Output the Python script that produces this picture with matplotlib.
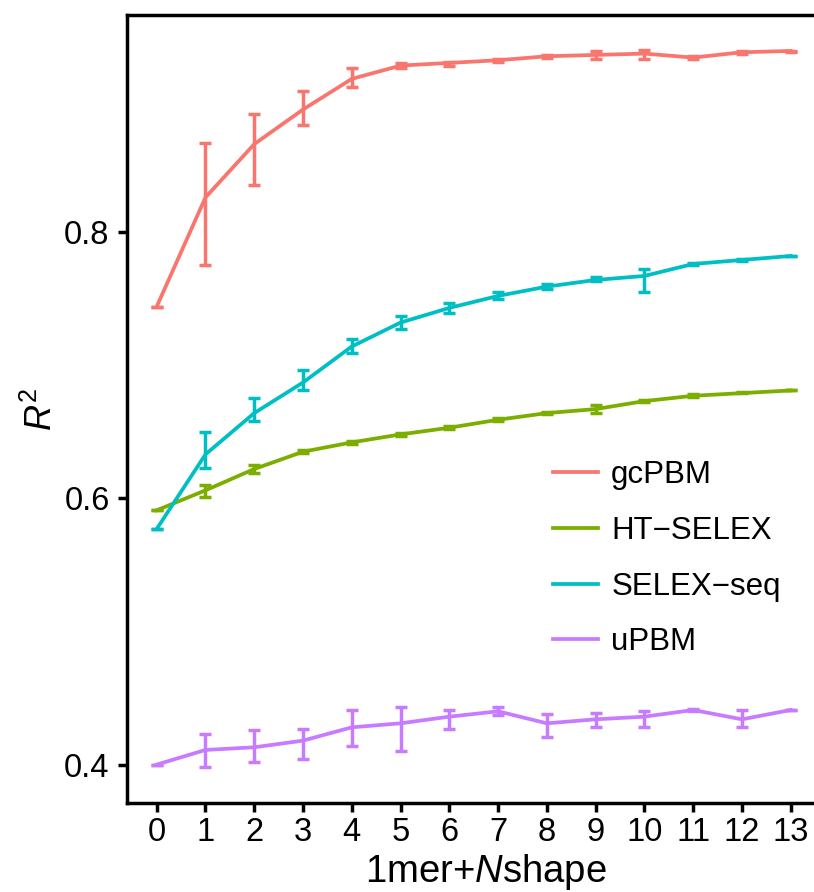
import matplotlib
matplotlib.use('Agg')
import matplotlib.pyplot as plt
import numpy as np

plt.rcParams['font.family'] = ['Liberation Sans', 'DejaVu Sans']
plt.rcParams['mathtext.fontset'] = 'custom'
plt.rcParams['mathtext.rm'] = 'Liberation Sans'
plt.rcParams['mathtext.it'] = 'Liberation Sans:italic'

## Datos: R^2 medio y limites de la barra de error
n_shape = list(range(14))

gcpbm_mean = [0.744, 0.826, 0.866, 0.892, 0.915, 0.925, 0.927, 0.929, 0.932, 0.933, 0.934, 0.931, 0.935, 0.936]
gcpbm_lo   = [0.744, 0.775, 0.835, 0.880, 0.909, 0.923, 0.925, 0.928, 0.931, 0.930, 0.930, 0.930, 0.934, 0.935]
gcpbm_hi   = [0.744, 0.867, 0.889, 0.906, 0.923, 0.927, 0.928, 0.930, 0.933, 0.936, 0.937, 0.932, 0.936, 0.936]

htselex_mean = [0.591, 0.606, 0.622, 0.635, 0.642, 0.648, 0.653, 0.659, 0.664, 0.667, 0.673, 0.677, 0.679, 0.681]
htselex_lo   = [0.591, 0.601, 0.619, 0.634, 0.641, 0.647, 0.652, 0.658, 0.663, 0.664, 0.672, 0.676, 0.679, 0.681]
htselex_hi   = [0.591, 0.610, 0.625, 0.636, 0.643, 0.649, 0.654, 0.660, 0.665, 0.670, 0.674, 0.678, 0.680, 0.681]

selexseq_mean = [0.577, 0.633, 0.664, 0.687, 0.714, 0.732, 0.743, 0.752, 0.759, 0.764, 0.767, 0.776, 0.779, 0.782]
selexseq_lo   = [0.577, 0.623, 0.658, 0.681, 0.709, 0.727, 0.739, 0.750, 0.757, 0.763, 0.755, 0.775, 0.778, 0.782]
selexseq_hi   = [0.577, 0.650, 0.675, 0.696, 0.720, 0.737, 0.747, 0.755, 0.761, 0.766, 0.772, 0.777, 0.780, 0.782]

upbm_mean = [0.400, 0.411, 0.413, 0.418, 0.428, 0.431, 0.436, 0.440, 0.431, 0.434, 0.436, 0.441, 0.434, 0.441]
upbm_lo   = [0.400, 0.398, 0.402, 0.404, 0.414, 0.410, 0.427, 0.437, 0.421, 0.428, 0.428, 0.440, 0.428, 0.441]
upbm_hi   = [0.400, 0.423, 0.426, 0.427, 0.441, 0.443, 0.441, 0.443, 0.438, 0.439, 0.440, 0.442, 0.441, 0.441]

series = [
    ('gcPBM', '#F8766D', gcpbm_mean, gcpbm_lo, gcpbm_hi),
    ('HT\u2212SELEX', '#7CAE00', htselex_mean, htselex_lo, htselex_hi),
    ('SELEX\u2212seq', '#00BFC4', selexseq_mean, selexseq_lo, selexseq_hi),
    ('uPBM', '#C77CFF', upbm_mean, upbm_lo, upbm_hi),
]
#############################

fig = plt.figure(figsize=(8.14, 8.92), dpi=100)
ax = fig.add_axes([0.1560, 0.0994, 0.8543, 0.8838])

for name, col, m, lo, hi in series:
    m = np.array(m)
    err = [m - np.array(lo), np.array(hi) - m]
    ax.errorbar(n_shape, m, yerr=err, color=col, lw=2.7, elinewidth=2.5,
                capsize=4.4, capthick=2.5, label=name)

ax.set_xlim(-0.61, 13.65)
ax.set_ylim(0.3709, 0.963)
ax.set_xticks(n_shape)
ax.set_yticks([0.4, 0.6, 0.8])
ax.set_yticklabels(['0.4', '0.6', '0.8'])

for s in ax.spines.values():
    s.set_linewidth(2.5)
ax.tick_params(axis='both', length=6.5, width=2.5, labelsize=23.5, colors='black')
ax.tick_params(axis='y', pad=6)
ax.tick_params(axis='x', pad=3)

ax.set_xlabel('1mer+$\\mathit{N}$shape', fontsize=27.5)
ax.xaxis.set_label_coords(0.516, -0.062)
ax.set_ylabel('$\\mathit{R}^2$', fontsize=26)
ax.yaxis.set_label_coords(-0.096, 0.5)

# leyenda solo con lineas
handles, labels = ax.get_legend_handles_labels()
handles = [h[0] for h in handles]
fig.legend(handles, labels, loc='upper left', bbox_to_anchor=(0.679, 0.484),
           frameon=False, fontsize=22.5, handlelength=1.45, handletextpad=0.42,
           labelspacing=0.82, borderpad=0, borderaxespad=0)

fig.savefig('out.png', dpi=100)
